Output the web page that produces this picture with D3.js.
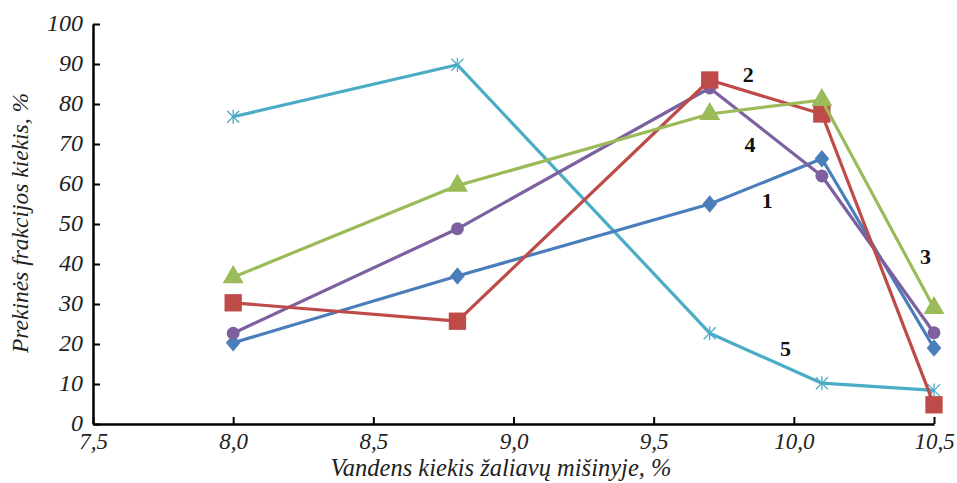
<!DOCTYPE html>
<html>
<head>
<meta charset="utf-8">
<script src="https://cdn.jsdelivr.net/npm/d3@7"></script>
<style>
  body { margin: 0; background: #fff; }
</style>
</head>
<body>
<script>
// water content, %
var xValues = [8.0, 8.8, 9.7, 10.1, 10.5];

var series1 = [20.3, 37, 55, 66.3, 19];
var series2 = [30.3, 25.7, 86, 77.5, 4.8];
var series3 = [36.7, 59.6, 77.5, 81, 29];
var series4 = [22.7, 48.8, 84, 62, 22.8];
var series5 = [76.8, 89.8, 22.7, 10.2, 8.4];

var seriesNames = ['1', '2', '3', '4', '5'];
var xTicks = [7.5, 8.0, 8.5, 9.0, 9.5, 10.0, 10.5];
var yTicks = [0, 10, 20, 30, 40, 50, 60, 70, 80, 90, 100];

// where the curve numbers sit (data coords)
var labelX = [9.905, 9.837, 10.47, 9.844, 9.97];
var labelY = [56, 87.5, 42, 70, 19];

var FONT = '"Liberation Serif", "Times New Roman", Times, serif';

var width = 957, height = 483;
var margin = {left: 93, right: 23, top: 24, bottom: 59};

var svg = d3.select('body').append('svg')
  .attr('width', width)
  .attr('height', height);

var x = d3.scaleLinear().domain([7.5, 10.5]).range([margin.left, width - margin.right]);
var y = d3.scaleLinear().domain([0, 100]).range([height - margin.bottom, margin.top]);

var fmt = function(d) { return d3.format('.1f')(d).replace('.', ','); };

var xAxis = svg.append('g')
  .attr('transform', 'translate(0,' + y(0) + ')')
  .call(d3.axisBottom(x).tickValues(xTicks).tickSizeInner(-7).tickSizeOuter(0).tickFormat(fmt));
xAxis.attr('font-family', FONT);
xAxis.select('.domain').attr('stroke', '#000').attr('stroke-width', 2.5);
xAxis.selectAll('.tick line').attr('stroke', '#000').attr('stroke-width', 2);
xAxis.selectAll('.tick text')
  .attr('y', 9)
  .style('font-family', FONT)
  .style('font-size', '23px')
  .style('font-style', 'italic')
  .attr('fill', '#222');

var yAxis = svg.append('g')
  .attr('transform', 'translate(' + x(7.5) + ',0)')
  .call(d3.axisLeft(y).tickValues(yTicks).tickSizeInner(-7).tickSizeOuter(0));
yAxis.attr('font-family', FONT);
yAxis.select('.domain').attr('stroke', '#000').attr('stroke-width', 2.5);
yAxis.selectAll('.tick line').attr('stroke', '#000').attr('stroke-width', 2);
yAxis.selectAll('.tick text')
  .attr('x', -10)
  .attr('dy', '0.28em')
  .style('font-family', FONT)
  .style('font-size', '24px')
  .style('font-style', 'italic')
  .attr('fill', '#222');

svg.append('text')
  .attr('transform', 'translate(28,' + ((margin.top + y(0)) / 2 - 1) + ') rotate(-90)')
  .attr('text-anchor', 'middle')
  .style('font-family', FONT)
  .style('font-size', '23.5px')
  .style('font-style', 'italic')
  .attr('fill', '#222')
  .text('Prekinės frakcijos kiekis, %');

svg.append('text')
  .attr('x', 501)
  .attr('y', 476)
  .attr('text-anchor', 'middle')
  .style('font-family', FONT)
  .style('font-size', '24.5px')
  .style('font-style', 'italic')
  .attr('fill', '#222')
  .text('Vandens kiekis žaliavų mišinyje, %');

var allSeries = [series1, series2, series3, series4, series5];
var colors = ['#4a7ebb', '#be4b48', '#9bbb59', '#7d60a0', '#4bacc6'];
var symbols = [
  d3.symbol().type(d3.symbolDiamond).size(110),
  d3.symbol().type(d3.symbolSquare).size(300),
  d3.symbol().type(d3.symbolTriangle).size(190),
  d3.symbol().type(d3.symbolCircle).size(130),
  null
];

var line = d3.line()
  .x(function(d, i) { return x(xValues[i]); })
  .y(function(d) { return y(d); });

// draw order similar to the picture: 5 at bottom, then 1, 4, 2, 3
var order = [4, 0, 3, 1, 2];
order.forEach(function(k) {
  var g = svg.append('g');
  g.append('path')
    .attr('d', line(allSeries[k]))
    .attr('fill', 'none')
    .attr('stroke', colors[k])
    .attr('stroke-width', 3.2)
    .attr('stroke-linejoin', 'round');

  var pts = g.selectAll('.pt').data(allSeries[k]).enter().append('g')
    .attr('transform', function(d, i) { return 'translate(' + x(xValues[i]) + ',' + y(d) + ')'; });

  if (symbols[k]) {
    pts.append('path')
      .attr('d', symbols[k])
      .attr('transform', k === 0 ? 'scale(1.3,0.9)' : null)
      .attr('fill', colors[k]);
  } else {
    // asterisk marker
    [[-6, -6, 6, 6], [-6, 6, 6, -6], [0, -7, 0, 7]].forEach(function(s) {
      pts.append('line')
        .attr('x1', s[0]).attr('y1', s[1]).attr('x2', s[2]).attr('y2', s[3])
        .attr('stroke', colors[k]).attr('stroke-width', 1.3);
    });
  }
});

svg.selectAll('.curve-label').data(seriesNames).enter().append('text')
  .attr('class', 'curve-label')
  .attr('x', function(d, i) { return x(labelX[i]); })
  .attr('y', function(d, i) { return y(labelY[i]); })
  .attr('text-anchor', 'middle')
  .attr('dy', '0.35em')
  .style('font-family', FONT)
  .style('font-size', '22px')
  .style('font-weight', 'bold')
  .attr('fill', '#111')
  .text(function(d) { return d; });
</script>
</body>
</html>
